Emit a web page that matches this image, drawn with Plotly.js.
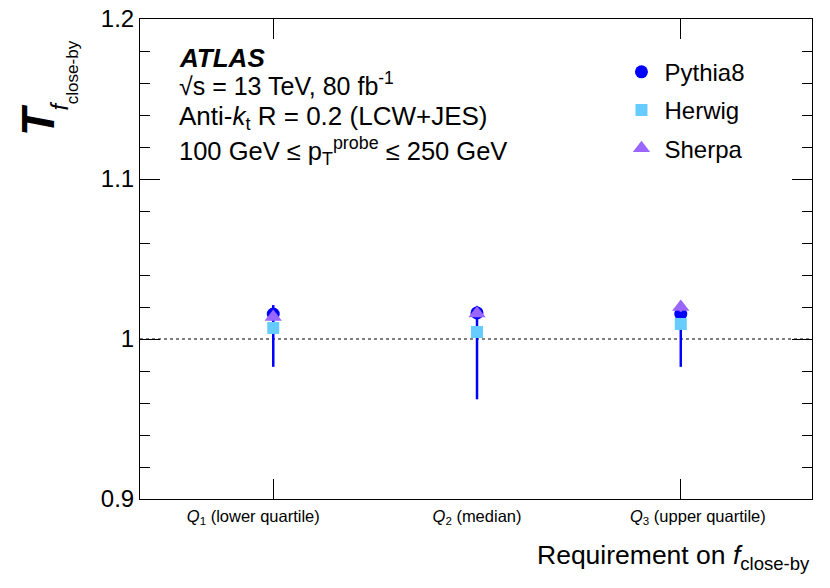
<!DOCTYPE html>
<html>
<head>
<meta charset="utf-8">
<script src="https://cdn.plot.ly/plotly-3.0.1.min.js"></script>
<style>
  html, body { margin: 0; padding: 0; background: #fff; }
  #chart { width: 830px; height: 588px; }
</style>
</head>
<body>
<div id="chart"></div>
<script>
/* =========================
   Data
========================= */
const categories = [1, 2, 3];
const catLabels = ["<i>Q</i><sub>1</sub> (lower quartile)", "<i>Q</i><sub>2</sub> (median)", "<i>Q</i><sub>3</sub> (upper quartile)"];
const labelPos = [0.902, 2.0, 3.084];   // ROOT puts the bin labels slightly off the points
const tickedCats = [1, 3];

const pythiaVals = [1.0156, 1.0163, 1.0156];
const pythiaErrUp = [0.0056, 0.0044, 0.005];
const pythiaErrDown = [0.033, 0.054, 0.033];

const herwigVals = [1.0069, 1.0044, 1.0094];
const herwigErr = [0.003, 0.003, 0.003];

const sherpaVals = [1.0137, 1.016, 1.020];
const sherpaErr = [0.002, 0.002, 0.003];

const refLine = 1.0;

const COLORS = { py: "#0000ff", hw: "#66ccff", sh: "#9966ff" };
const FONT = "Liberation Sans, Arial, Helvetica, sans-serif";

const traces = [
  {
    x: categories, y: pythiaVals, name: "Pythia8", type: "scatter", mode: "markers", legendgroup: "py",
    marker: { color: COLORS.py, symbol: "circle", size: 13 },
    error_y: { type: "data", symmetric: false, array: pythiaErrUp, arrayminus: pythiaErrDown, color: COLORS.py, thickness: 2.5, width: 0 }
  },
  {
    x: categories, y: herwigVals, name: "Herwig", type: "scatter", mode: "markers", legendgroup: "hw",
    marker: { color: COLORS.hw, symbol: "square", size: 12 },
    error_y: { type: "data", array: herwigErr, color: COLORS.hw, thickness: 2.5, width: 0 }
  },
  {
    x: categories, y: sherpaVals, name: "Sherpa", type: "scatter", mode: "markers", legendgroup: "sh",
    marker: { color: COLORS.sh, symbol: "triangle-up", size: 15 },
    error_y: { type: "data", array: sherpaErr, color: COLORS.sh, thickness: 2.5, width: 0 }
  },
  // invisible trace so the tick-only overlay axis gets drawn
  { x: tickedCats, y: [null, null], xaxis: "x2", type: "scatter", mode: "markers",
    marker: { opacity: 0 }, showlegend: false, hoverinfo: "skip" }
];

const xRange = [0.346, 3.644];

const layout = {
  width: 830, height: 588,
  margin: { l: 140, r: 18, t: 19, b: 89 },
  paper_bgcolor: "#fff",
  plot_bgcolor: "#fff",
  font: { family: FONT, size: 22, color: "#000" },
  showlegend: true,
  legend: {
    x: 0.712, y: 0.936, xanchor: "left", yanchor: "top",
    bgcolor: "rgba(0,0,0,0)", font: { family: FONT, size: 24 },
    itemwidth: 36, tracegroupgap: 4
  },
  xaxis: {
    range: xRange, tickvals: labelPos, ticktext: catLabels, ticks: "",
    tickfont: { family: FONT, size: 16.5 }, ticklabelstandoff: 2,
    showline: true, mirror: true, linecolor: "#000", linewidth: 1,
    showgrid: false, zeroline: false, fixedrange: true
  },
  xaxis2: {
    overlaying: "x", range: xRange, tickvals: tickedCats,
    ticks: "inside", ticklen: 20, tickcolor: "#000", tickwidth: 1,
    showticklabels: false, showline: true, linecolor: "#000", mirror: "ticks",
    showgrid: false, zeroline: false, side: "bottom", fixedrange: true
  },
  yaxis: {
    range: [0.9, 1.2], dtick: 0.1, tick0: 0.9, tickformat: "~g",
    ticks: "inside", ticklen: 20, tickcolor: "#000", tickwidth: 1,
    minor: { dtick: 0.02, ticks: "inside", ticklen: 10, tickcolor: "#000", tickwidth: 1, showgrid: false },
    tickfont: { family: FONT, size: 24 },
    showline: true, mirror: "ticks", linecolor: "#000", linewidth: 1,
    showgrid: false, zeroline: false, fixedrange: true,
    title: { text: "" }
  },
  shapes: [
    { type: "line", xref: "paper", x0: 0, x1: 1, yref: "y", y0: refLine, y1: refLine,
      line: { color: "#000", width: 1.2, dash: "dot" }, layer: "below" }
  ],
  annotations: [
    { xref: "paper", yref: "paper", x: 0.055, y: 0.919, xanchor: "left", yanchor: "middle", showarrow: false,
      text: "<b><i>ATLAS</i></b>", font: { family: FONT, size: 26 } },
    { xref: "paper", yref: "paper", x: 0.055, y: 0.865, xanchor: "left", yanchor: "middle", showarrow: false,
      text: "\u221As = 13 TeV, 80 fb<sup>-1</sup>", font: { family: FONT, size: 25 } },
    { xref: "paper", yref: "paper", x: 0.055, y: 0.794, xanchor: "left", yanchor: "middle", showarrow: false,
      text: "Anti-<i>k</i><sub>t</sub> R = 0.2 (LCW+JES)", font: { family: FONT, size: 26 } },
    { xref: "paper", yref: "paper", x: 0.055, y: 0.725, xanchor: "left", yanchor: "middle", showarrow: false,
      text: "100 GeV \u2264 p<sub>T</sub><sup>probe</sup> \u2264 250 GeV", font: { family: FONT, size: 25.5 } },
    { xref: "paper", yref: "paper", x: 1, y: -0.121, xanchor: "right", yanchor: "middle", showarrow: false,
      text: "Requirement on <i>f</i><sub>close-by</sub>", font: { family: FONT, size: 26.5 } },
    { xref: "paper", yref: "paper", x: -0.152, y: 0.752, xanchor: "center", yanchor: "bottom", showarrow: false,
      textangle: -90,
      text: "<i><b>T</b></i>", font: { family: FONT, size: 46 } },
    { xref: "paper", yref: "paper", x: -0.12, y: 0.805, xanchor: "center", yanchor: "bottom", showarrow: false,
      textangle: -90,
      text: "<i>f</i>", font: { family: FONT, size: 24 } },
    { xref: "paper", yref: "paper", x: -0.1, y: 0.818, xanchor: "center", yanchor: "bottom", showarrow: false,
      textangle: -90,
      text: "close-by", font: { family: FONT, size: 17 } }
  ]
};

Plotly.newPlot("chart", traces, layout, { displayModeBar: false, staticPlot: true });
</script>
</body>
</html>
